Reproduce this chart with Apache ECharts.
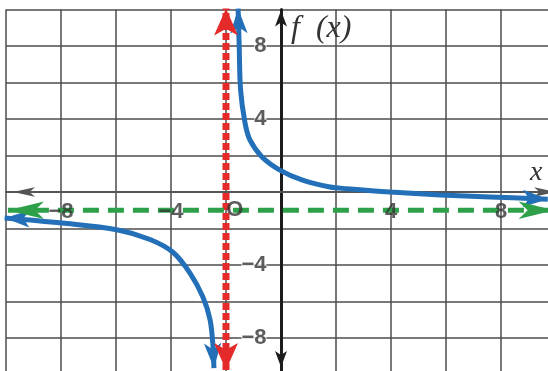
<!DOCTYPE html>
<html>
<head>
<meta charset="utf-8">
<script src="https://cdn.jsdelivr.net/npm/echarts@6/dist/echarts.min.js"></script>
<style>
html, body { margin: 0; padding: 0; background: #fff; }
#chart { width: 548px; height: 371px; }
</style>
</head>
<body>
<div id="chart"></div>
<script>
// tick labels shown on the axes
const xLabels = [-8, -4, 4, 8]
const yLabels = [-8, -4, 4, 8]

// branches of the curve (first/last point = arrow tips)
const rightBranch = [
  [-1.56, 10.05], [-1.52, 8], [-1.47, 5.6], [-1.31, 3.8], [-1.13, 2.85],
  [-0.69, 1.92], [-0.04, 1.2], [0.76, 0.66], [1.78, 0.27], [2.4, 0.18],
  [3.96, 0], [5.8, -0.16], [7.6, -0.27], [9.7, -0.4]
]
const leftBranch = [
  [-10.05, -1.42], [-7.96, -1.7], [-5.93, -2.08], [-4.76, -2.6], [-3.93, -3.3],
  [-3.31, -4.44], [-2.84, -5.75], [-2.58, -7.0], [-2.47, -8.5], [-2.44, -9.65]
]

// asymptotes
const vAsymptote = [[-2, -9.75], [-2, 10.05]]
const hAsymptote = [[-9.93, -1], [9.95, -1]]
const originLabel = [[-1.7, -1]]

// put arrow symbols on first and last point
function arrowEnds(points, startRotate, endRotate, size) {
  return points.map((p, i) => {
    if (i === 0) return { value: p, symbol: 'arrow', symbolSize: size, symbolRotate: startRotate }
    if (i === points.length - 1) return { value: p, symbol: 'arrow', symbolSize: size, symbolRotate: endRotate }
    return { value: p, symbolSize: 0 }
  })
}

const minus = v => String(v).replace('-', '\u2212')

const labelFont = {
  fontSize: 22,
  fontWeight: 'bold',
  fontFamily: 'Liberation Sans',
  color: '#333'
}

let myChart = echarts.init(document.getElementById('chart'))
myChart.setOption({
  animation: false,
  grid: {
    left: 6,
    top: 9.5,
    width: 550,
    height: 365,
    containLabel: false,
    outerBoundsMode: 'none'
  },
  xAxis: {
    type: 'value',
    min: -10,
    max: 10,
    interval: 2,
    name: 'x',
    nameLocation: 'end',
    nameGap: -26,
    nameTextStyle: {
      fontFamily: 'Liberation Serif',
      fontStyle: 'italic',
      fontSize: 28,
      color: '#333',
      verticalAlign: 'bottom',
      padding: [0, 0, 5, 0]
    },
    axisLine: {
      onZero: true,
      symbol: ['arrow', 'arrow'],
      symbolSize: [7, 22],
      symbolOffset: [7, 0],
      lineStyle: { color: '#555', width: 2 }
    },
    axisTick: { show: false },
    axisLabel: { show: false },
    splitLine: {
      show: true,
      lineStyle: { color: '#4d4d4d', width: 1.5 }
    }
  },
  yAxis: {
    type: 'value',
    min: -10,
    max: 10,
    interval: 2,
    name: 'f  (x)',
    nameLocation: 'end',
    nameGap: -19,
    nameTextStyle: {
      fontFamily: 'Liberation Serif',
      fontStyle: 'italic',
      fontSize: 32,
      color: '#333',
      align: 'left',
      verticalAlign: 'middle',
      padding: [0, 0, 0, 10]
    },
    axisLine: {
      onZero: true,
      symbol: ['arrow', 'arrow'],
      symbolSize: [9, 16],
      symbolOffset: [7.5, -1],
      lineStyle: { color: '#1c1c1c', width: 3 }
    },
    axisTick: { show: false },
    axisLabel: { show: false },
    splitLine: {
      show: true,
      lineStyle: { color: '#4d4d4d', width: 1.5 }
    }
  },
  series: [
    {
      type: 'line',
      data: arrowEnds(rightBranch, 2, -92, [13, 25]),
      smooth: 0.35,
      clip: false,
      symbol: 'circle',
      symbolSize: 0,
      lineStyle: { color: '#2370b8', width: 5 },
      itemStyle: { color: '#2370b8' },
      z: 3
    },
    {
      type: 'line',
      data: arrowEnds(leftBranch, 88, 183, [13, 25]),
      smooth: 0.35,
      clip: false,
      symbol: 'circle',
      symbolSize: 0,
      lineStyle: { color: '#2370b8', width: 5 },
      itemStyle: { color: '#2370b8' },
      z: 3
    },
    {
      type: 'line',
      data: arrowEnds(vAsymptote, 180, 0, [18, 27]),
      clip: false,
      symbol: 'circle',
      symbolSize: 0,
      lineStyle: { color: '#e52a2a', width: 7, type: [7, 3] },
      itemStyle: { color: '#e52a2a' },
      z: 4
    },
    {
      type: 'line',
      data: arrowEnds(hAsymptote, 90, -90, [13, 36]),
      clip: false,
      symbol: 'circle',
      symbolSize: 0,
      lineStyle: { color: '#2ea04a', width: 5, type: [16, 9] },
      itemStyle: { color: '#2ea04a' },
      z: 4
    },
    {
      // x tick labels, hung under the x axis
      type: 'scatter',
      data: xLabels.map(v => [v, 0]),
      symbolSize: 1,
      itemStyle: { color: 'transparent' },
      label: Object.assign({
        show: true,
        position: 'bottom',
        distance: 8,
        formatter: p => minus(p.value[0])
      }, labelFont),
      z: 5
    },
    {
      // y tick labels, left of the y axis
      type: 'scatter',
      data: yLabels.map(v => [0, v]),
      symbolSize: 1,
      itemStyle: { color: 'transparent' },
      label: Object.assign({
        show: true,
        position: 'left',
        distance: 14,
        backgroundColor: '#fff',
        formatter: p => minus(p.value[1])
      }, labelFont),
      z: 2
    },
    {
      type: 'scatter',
      data: originLabel,
      symbolSize: 1,
      itemStyle: { color: 'transparent' },
      label: Object.assign({
        show: true,
        position: 'right',
        distance: 0,
        align: 'center',
        verticalAlign: 'middle',
        formatter: 'O'
      }, labelFont),
      z: 5
    }
  ]
})
</script>
</body>
</html>
